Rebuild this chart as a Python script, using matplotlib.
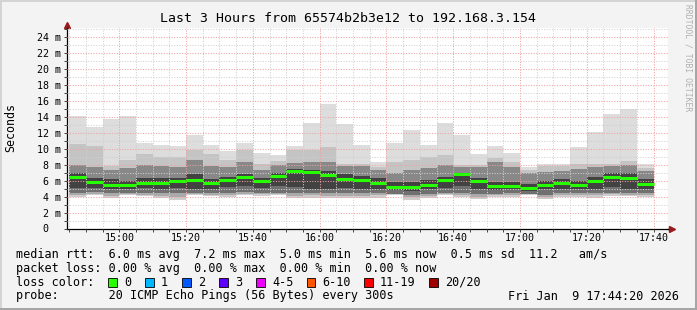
import matplotlib
matplotlib.use("Agg")
import matplotlib.pyplot as plt
import matplotlib.dates as mdates
from matplotlib.ticker import MultipleLocator
from matplotlib.patches import Rectangle
from matplotlib.lines import Line2D
import numpy as np
from datetime import datetime, timedelta

plt.rcParams["font.family"] = ["DejaVu Sans Mono"]

# 35 rounds of 20 pings, 5 minutes each, values in ms
first_round = datetime(2026, 1, 9, 14, 45)
rtt_max = [14.1, 12.8, 13.7, 14.1, 10.7, 10.5, 10.4, 11.8, 10.5, 9.7, 10.8, 9.5,
           9.2, 10.4, 13.3, 15.6, 13.1, 10.5, 8.3, 10.8, 12.4, 10.5, 13.3, 11.8,
           9.3, 10.4, 9.5, 7.7, 8.1, 8.1, 10.2, 12.1, 14.4, 15.0, 8.1]
rtt_p90 = [10.6, 10.3, 7.8, 8.6, 9.4, 9.0, 9.0, 9.9, 9.4, 8.6, 9.8, 8.1,
           8.5, 9.8, 9.9, 10.2, 8.1, 8.1, 7.7, 8.4, 8.6, 9.0, 9.2, 8.0,
           8.0, 8.8, 8.3, 7.3, 7.8, 7.8, 8.1, 8.1, 8.1, 8.5, 7.6]
rtt_p75 = [8.0, 7.7, 7.3, 7.6, 8.0, 7.9, 7.7, 8.6, 7.9, 7.7, 8.4, 7.4,
           8.0, 8.2, 8.4, 8.4, 7.8, 7.9, 7.3, 7.0, 7.3, 7.6, 8.0, 7.7,
           7.7, 8.3, 7.7, 7.0, 7.1, 7.2, 7.5, 7.7, 7.9, 8.0, 7.2]
rtt_p60 = [7.0, 6.4, 6.2, 6.0, 6.3, 6.3, 6.4, 6.8, 6.2, 6.5, 6.9, 6.3,
           7.0, 7.5, 7.4, 7.2, 6.8, 6.6, 6.3, 5.8, 5.9, 6.1, 6.5, 7.0,
           6.3, 5.8, 5.8, 5.6, 6.0, 6.2, 6.0, 6.5, 7.0, 7.0, 6.2]
rtt_median = [6.48, 5.82, 5.48, 5.48, 5.73, 5.73, 5.98, 6.07, 5.73, 6.07, 6.48, 5.98,
              6.61, 7.24, 7.07, 6.73, 6.21, 6.03, 5.73, 5.23, 5.23, 5.48, 6.07, 6.86,
              5.94, 5.35, 5.35, 5.10, 5.48, 5.73, 5.48, 5.98, 6.48, 6.32, 5.60]
rtt_p40 = [5.1, 5.1, 4.9, 4.9, 5.1, 5.0, 5.1, 5.0, 5.0, 5.2, 5.3, 5.1,
           5.4, 5.2, 5.0, 5.0, 5.1, 5.0, 5.0, 4.8, 4.7, 4.9, 5.1, 5.3,
           5.0, 4.8, 4.9, 4.7, 4.9, 5.0, 4.9, 5.0, 5.2, 4.9, 4.9]
rtt_p25 = [4.5, 4.6, 4.4, 4.4, 4.5, 4.4, 4.4, 4.5, 4.5, 4.5, 4.6, 4.5,
           4.4, 4.4, 4.5, 4.4, 4.4, 4.4, 4.5, 4.3, 4.2, 4.3, 4.5, 4.4,
           4.3, 4.3, 4.4, 4.3, 4.2, 4.4, 4.4, 4.4, 4.5, 4.4, 4.4]
rtt_p10 = [4.2, 4.35, 4.1, 4.3, 4.25, 4.1, 4.0, 4.3, 4.25, 4.2, 4.35, 4.3,
           4.3, 4.1, 4.15, 4.1, 4.1, 4.1, 4.15, 4.3, 3.95, 4.1, 4.3, 4.2,
           4.0, 4.15, 4.2, 4.3, 4.0, 4.2, 4.2, 4.15, 4.3, 4.25, 4.2]
rtt_min = [3.97, 4.18, 3.85, 4.18, 4.06, 3.77, 3.6, 4.18, 4.06, 3.93, 4.18, 4.1,
           4.18, 3.77, 3.85, 3.77, 3.77, 3.77, 3.85, 4.18, 3.56, 3.77, 4.18, 3.97,
           3.68, 3.97, 3.97, 4.18, 3.68, 3.97, 3.97, 3.85, 4.06, 4.06, 3.97]

y_ticks = [0, 2, 4, 6, 8, 10, 12, 14, 16, 18, 20, 22, 24]
loss_labels = ["0", "1", "2", "3", "4-5", "6-10", "11-19", "20/20"]
loss_colors = ["#26ff00", "#00b8ff", "#0059ff", "#5e00ff", "#ee00ff", "#ff5500", "#ff0000", "#a10000"]

W, H = 697, 310
fig = plt.figure(figsize=(W / 100, H / 100), dpi=100, facecolor="#f3f3f3")

def fx(x):
    return x / W

def fy(y):
    return 1 - y / H

ax = fig.add_axes([fx(67), fy(228.5), fx(668) - fx(67), fy(28) - fy(228.5)])
ax.set_facecolor("white")

t0 = datetime(2026, 1, 9, 14, 44, 20)
ax.set_xlim(mdates.date2num(t0), mdates.date2num(t0 + timedelta(hours=3)))
ax.set_ylim(0, 25.18)

# smoke
x = mdates.date2num([first_round + timedelta(minutes=5 * i) for i in range(len(rtt_median))])
w = 5 / 1440
bands = [
    (rtt_min, rtt_p10, "#cdcdcd"),
    (rtt_p10, rtt_p25, "#aaaaaa"),
    (rtt_p25, rtt_p40, "#707070"),
    (rtt_p40, rtt_p60, "#424242"),
    (rtt_p60, rtt_p75, "#888888"),
    (rtt_p75, rtt_p90, "#c4c4c4"),
    (rtt_p90, rtt_max, "#dddddd"),
]
for lo, hi, c in bands:
    ax.bar(x, np.subtract(hi, lo), bottom=lo, width=w, align="edge", color=c,
           linewidth=0, antialiased=False, zorder=1)

ax.hlines(rtt_median, x, x + w, colors=loss_colors[0], linewidth=2.2, zorder=3)

# grid + axes
ax.xaxis.set_major_locator(mdates.MinuteLocator(byminute=[0, 20, 40]))
ax.xaxis.set_minor_locator(mdates.MinuteLocator(byminute=range(0, 60, 5)))
ax.xaxis.set_major_formatter(mdates.DateFormatter("%H:%M"))
ax.set_yticks(y_ticks)
ax.set_yticklabels([""] + [f"{v} m" for v in y_ticks[1:]])
ax.yaxis.set_minor_locator(MultipleLocator(1))
ax.set_axisbelow(False)
ax.grid(which="major", color="#f2a0a0", linestyle=(0, (1, 1.5)), linewidth=0.75)
ax.grid(which="minor", color="#d0d0d0", linestyle=(0, (1, 1.5)), linewidth=0.75)
ax.tick_params(which="both", direction="out", length=2, width=0.7, color="#444444",
               labelsize=7.2, pad=2.5)
ax.tick_params(axis="x", which="both", pad=1.0)
# put the "0" in the same column as "2 m"
ax.text((48 - 67) / (668 - 67), 0, "0", transform=ax.transAxes, ha="right", va="center", fontsize=7.2)

for s in ["top", "right"]:
    ax.spines[s].set_visible(False)
for s in ["left", "bottom"]:
    ax.spines[s].set_color("black")
    ax.spines[s].set_linewidth(0.9)
ax.plot([0, 0], [1, 1.02], transform=ax.transAxes, color="black", lw=0.9, clip_on=False)
ax.plot([1, 1.007], [0, 0], transform=ax.transAxes, color="black", lw=0.9, clip_on=False)
ax.plot([0], [1.015], transform=ax.transAxes, marker="^", ms=4.5, color="#9a1a1a", clip_on=False)
ax.plot([1.006], [0], transform=ax.transAxes, marker=">", ms=4.5, color="#9a1a1a", clip_on=False)

# texts
fig.text(fx(347.5), fy(19), "Last 3 Hours from 65574b2b3e12 to 192.168.3.154",
         ha="center", va="center", fontsize=9.5)
fig.text(fx(10.5), fy(127.5), "Seconds", rotation=90, ha="center", va="center", fontsize=8.4)
fig.text(fx(688), fy(4), "RRDTOOL / TOBI OETIKER", rotation=270, ha="center", va="top",
         fontsize=5.8, color="#b0b0b0")

fs = 8.5
fig.text(fx(16), fy(254.3), "median rtt:  6.0 ms avg  7.2 ms max  5.0 ms min  5.6 ms now  0.5 ms sd  11.2   am/s",
         ha="left", va="center", fontsize=fs)
fig.text(fx(16), fy(268.3), "packet loss: 0.00 % avg  0.00 % max  0.00 % min  0.00 % now",
         ha="left", va="center", fontsize=fs)
fig.text(fx(16), fy(282.3), "loss color:", ha="left", va="center", fontsize=fs)
box_x = [108, 145, 182, 219, 256, 306.5, 364, 429]
for bx, lab, col in zip(box_x, loss_labels, loss_colors):
    fig.add_artist(Rectangle((fx(bx), fy(286.5)), fx(8.5), 8.5 / H, facecolor=col,
                             edgecolor="black", linewidth=0.6, transform=fig.transFigure))
    fig.text(fx(bx + 16), fy(282.3), lab, ha="left", va="center", fontsize=fs)
fig.text(fx(16), fy(296), "probe:       20 ICMP Echo Pings (56 Bytes) every 300s",
         ha="left", va="center", fontsize=fs)
fig.text(fx(679), fy(296), "Fri Jan  9 17:44:20 2026", ha="right", va="center", fontsize=fs)

# frame
for xs, ys, col in [([0, 1], [fy(0.7)] * 2, "#d4d4d4"), ([fx(0.7)] * 2, [0, 1], "#d4d4d4"),
                    ([0, 1], [fy(309.2)] * 2, "#a4a4a4"), ([fx(696.2)] * 2, [0, 1], "#a4a4a4")]:
    fig.add_artist(Line2D(xs, ys, transform=fig.transFigure, color=col, lw=1.4))

fig.savefig("out.png", dpi=100, facecolor=fig.get_facecolor())
